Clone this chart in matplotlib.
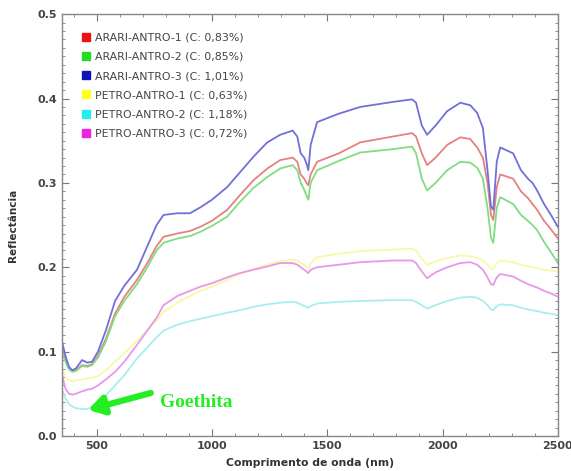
import matplotlib
matplotlib.use("Agg")
import matplotlib.pyplot as plt
from matplotlib.lines import Line2D
from matplotlib.ticker import MultipleLocator

wavelength = [350, 365, 380, 395, 410, 437, 460, 480, 506, 540, 580, 620, 675, 720, 760,
              790, 850, 905, 950, 1000, 1066, 1120, 1180, 1240, 1296, 1350, 1370, 1385, 1400, 1410,
              1418, 1428, 1456, 1550, 1643, 1786, 1868, 1885, 1910, 1933, 1970, 2020, 2077, 2120, 2150,
              2175, 2195, 2210, 2220, 2235, 2250, 2306, 2340, 2370, 2390, 2410, 2440, 2470, 2500]

arari_1 = [0.105, 0.090, 0.080, 0.077, 0.078, 0.084, 0.083, 0.085, 0.095, 0.115, 0.145, 0.165, 0.185, 0.205, 0.225,
           0.236, 0.240, 0.243, 0.248, 0.255, 0.268, 0.285, 0.303, 0.317, 0.327, 0.330, 0.325, 0.310, 0.305, 0.300,
           0.297, 0.310, 0.325, 0.335, 0.348, 0.355, 0.359, 0.355, 0.335, 0.321, 0.330, 0.345, 0.354, 0.352, 0.342,
           0.330, 0.300, 0.262, 0.256, 0.295, 0.310, 0.305, 0.290, 0.282, 0.275, 0.268, 0.255, 0.245, 0.234]

arari_2 = [0.100, 0.088, 0.079, 0.076, 0.077, 0.083, 0.082, 0.084, 0.093, 0.112, 0.142, 0.160, 0.180, 0.200, 0.220,
           0.229, 0.234, 0.237, 0.242, 0.249, 0.260, 0.277, 0.294, 0.307, 0.317, 0.321, 0.315, 0.300, 0.292, 0.285,
           0.280, 0.300, 0.315, 0.326, 0.336, 0.340, 0.343, 0.335, 0.305, 0.291, 0.300, 0.315, 0.325, 0.324, 0.318,
           0.305, 0.270, 0.235, 0.229, 0.270, 0.283, 0.275, 0.262, 0.255, 0.250, 0.244, 0.230, 0.218, 0.205]

arari_3 = [0.112, 0.095, 0.082, 0.078, 0.080, 0.090, 0.087, 0.088, 0.100, 0.125, 0.160, 0.178, 0.197, 0.225, 0.250,
           0.262, 0.264, 0.264, 0.271, 0.280, 0.295, 0.312, 0.331, 0.348, 0.357, 0.362, 0.355, 0.335, 0.330, 0.323,
           0.315, 0.345, 0.372, 0.382, 0.390, 0.396, 0.399, 0.395, 0.368, 0.357, 0.368, 0.385, 0.395, 0.392, 0.383,
           0.365, 0.315, 0.272, 0.268, 0.325, 0.342, 0.335, 0.315, 0.305, 0.300, 0.291, 0.275, 0.262, 0.248]

petro_1 = [0.078, 0.070, 0.066, 0.065, 0.066, 0.067, 0.068, 0.069, 0.071, 0.078, 0.088, 0.098, 0.113, 0.126, 0.137,
           0.147, 0.158, 0.166, 0.172, 0.177, 0.185, 0.192, 0.198, 0.203, 0.207, 0.209, 0.208, 0.205, 0.203, 0.200,
           0.199, 0.205, 0.212, 0.216, 0.219, 0.221, 0.222, 0.220, 0.210, 0.203, 0.207, 0.211, 0.214, 0.213, 0.211,
           0.208, 0.203, 0.198, 0.198, 0.205, 0.208, 0.206, 0.203, 0.201, 0.200, 0.199, 0.197, 0.196, 0.195]

petro_2 = [0.055, 0.045, 0.038, 0.035, 0.033, 0.032, 0.032, 0.034, 0.040, 0.048, 0.060, 0.072, 0.092, 0.105, 0.117,
           0.125, 0.132, 0.136, 0.139, 0.142, 0.146, 0.149, 0.153, 0.156, 0.158, 0.159, 0.158, 0.156, 0.154, 0.153,
           0.152, 0.154, 0.157, 0.159, 0.160, 0.161, 0.161, 0.159, 0.155, 0.151, 0.155, 0.160, 0.164, 0.165, 0.164,
           0.160, 0.155, 0.150, 0.149, 0.154, 0.156, 0.155, 0.152, 0.150, 0.149, 0.148, 0.146, 0.145, 0.143]

petro_3 = [0.072, 0.056, 0.050, 0.049, 0.050, 0.053, 0.055, 0.056, 0.060, 0.067, 0.076, 0.088, 0.108, 0.125, 0.140,
           0.155, 0.166, 0.172, 0.177, 0.181, 0.188, 0.193, 0.197, 0.201, 0.205, 0.205, 0.203, 0.200, 0.197, 0.195,
           0.193, 0.197, 0.200, 0.203, 0.206, 0.208, 0.208, 0.205, 0.195, 0.187, 0.194, 0.200, 0.205, 0.206, 0.203,
           0.197, 0.188, 0.180, 0.179, 0.188, 0.192, 0.189, 0.184, 0.180, 0.178, 0.176, 0.172, 0.169, 0.165]

labels = ["ARARI-ANTRO-1 (C: 0,83%)", "ARARI-ANTRO-2 (C: 0,85%)", "ARARI-ANTRO-3 (C: 1,01%)",
          "PETRO-ANTRO-1 (C: 0,63%)", "PETRO-ANTRO-2 (C: 1,18%)", "PETRO-ANTRO-3 (C: 0,72%)"]
series = [arari_1, arari_2, arari_3, petro_1, petro_2, petro_3]
line_colors = ["#e88080", "#80dd80", "#7070d8", "#f8f8a8", "#a8eeee", "#e898e8"]
marker_colors = ["#ee1111", "#22dd22", "#1111bb", "#ffff22", "#22eeee", "#ee22dd"]

annot_text = "Goethita"
arrow_head = (463, 0.031)
arrow_tail = (735, 0.051)
text_pos = (775, 0.040)

fig = plt.figure(figsize=(5.71, 4.71), dpi=100)
ax = fig.add_axes([0.1086, 0.0743, 0.8684, 0.8957])

for vals, c in zip(series, line_colors):
    ax.plot(wavelength, vals, color=c, lw=1.3, solid_joinstyle="round")

ax.set_xlim(350, 2500)
ax.set_ylim(0.0, 0.5)
ax.xaxis.set_major_locator(MultipleLocator(500))
ax.xaxis.set_minor_locator(MultipleLocator(100))
ax.yaxis.set_major_locator(MultipleLocator(0.1))
ax.yaxis.set_minor_locator(MultipleLocator(0.01))
ax.yaxis.set_major_formatter(matplotlib.ticker.FormatStrFormatter("%.1f"))
ax.tick_params(which="both", direction="in", top=True, right=True, color="#777777")
ax.tick_params(which="major", length=5, labelsize=8, labelcolor="#444444")
ax.tick_params(which="minor", length=2.5)
for lab in ax.get_xticklabels() + ax.get_yticklabels():
    lab.set_fontweight("bold")
for sp in ax.spines.values():
    sp.set_color("#888888")
    sp.set_linewidth(1.0)

ax.set_xlabel("Comprimento de onda (nm)", fontsize=7.8, color="#333333", fontweight="bold", labelpad=5)
ax.set_ylabel("Reflectância", fontsize=7.5, color="#333333", fontweight="bold", labelpad=14)

handles = [Line2D([], [], ls="none", marker="s", markersize=6, markerfacecolor=c, markeredgecolor=c)
           for c in marker_colors]
ax.legend(handles, labels, loc="upper left", bbox_to_anchor=(0.025, 0.975), frameon=False,
          fontsize=7.9, labelcolor="#444444", handlelength=0.8, handletextpad=0.4,
          labelspacing=0.85, borderaxespad=0.3)

ax.annotate("", xy=arrow_head, xytext=arrow_tail,
            arrowprops=dict(arrowstyle="-|>,head_length=0.9,head_width=0.55", color="#22ee22",
                            lw=4.5, shrinkA=0, shrinkB=0))
ax.text(text_pos[0], text_pos[1], annot_text, fontsize=14, fontweight="bold", color="#22ee22",
        family="Liberation Serif", va="center", ha="left")

fig.savefig("out.png", dpi=100)
